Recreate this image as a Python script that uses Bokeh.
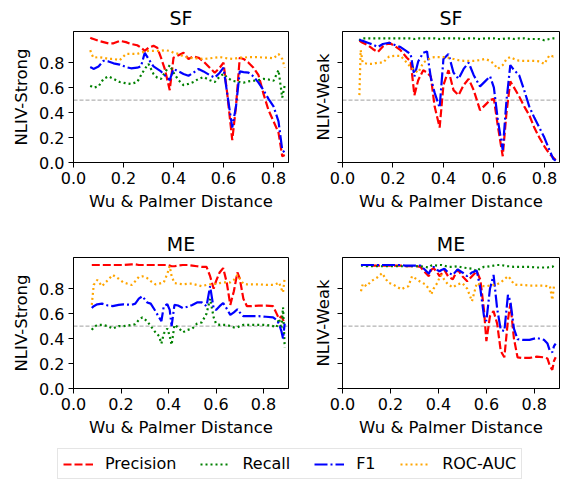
from bokeh.plotting import figure
from bokeh.layouts import column, row
from bokeh.models import Range1d, Span, FixedTicker, PrintfTickFormatter, Legend, LegendItem
from bokeh.embed import file_html
from bokeh.resources import INLINE

FONT = "DejaVu Sans"

# ---------------- data ----------------
tick_values = [0.0, 0.2, 0.4, 0.6, 0.8]

xs_sf = [0.067, 0.072, 0.08, 0.10, 0.12, 0.14, 0.16, 0.185, 0.21, 0.23, 0.255, 0.27, 0.285, 0.30,
         0.32, 0.335, 0.35, 0.365, 0.385, 0.40, 0.42, 0.44, 0.46, 0.48, 0.50, 0.52, 0.545, 0.565,
         0.585, 0.60, 0.615, 0.635, 0.65, 0.665, 0.68, 0.70, 0.72, 0.74, 0.76, 0.78, 0.80, 0.82,
         0.835, 0.845]

sf_strong_precision = [1.00, 0.995, 0.99, 0.975, 0.965, 0.955, 0.955, 0.975, 0.965, 0.95, 0.94, 0.92,
                       0.895, 0.92, 0.935, 0.92, 0.84, 0.75, 0.58, 0.84, 0.86, 0.88, 0.83, 0.85, 0.84,
                       0.81, 0.76, 0.72, 0.76, 0.80, 0.55, 0.18, 0.45, 0.84, 0.83, 0.80, 0.76, 0.70,
                       0.55, 0.42, 0.33, 0.24, 0.05, 0.06]
sf_strong_recall = [0.615, 0.61, 0.60, 0.61, 0.67, 0.69, 0.67, 0.645, 0.635, 0.63, 0.645, 0.70, 0.75,
                    0.79, 0.71, 0.68, 0.67, 0.72, 0.78, 0.72, 0.66, 0.62, 0.63, 0.645, 0.67, 0.685,
                    0.66, 0.645, 0.69, 0.71, 0.68, 0.655, 0.65, 0.645, 0.64, 0.65, 0.655, 0.66, 0.67,
                    0.665, 0.655, 0.74, 0.52, 0.62]
sf_strong_f1 = [0.765, 0.76, 0.75, 0.77, 0.815, 0.81, 0.795, 0.785, 0.765, 0.755, 0.76, 0.77, 0.88,
                0.83, 0.77, 0.75, 0.73, 0.70, 0.66, 0.75, 0.73, 0.71, 0.695, 0.72, 0.75, 0.73, 0.70,
                0.68, 0.72, 0.76, 0.55, 0.28, 0.45, 0.73, 0.725, 0.72, 0.69, 0.64, 0.58, 0.51, 0.45,
                0.33, 0.10, 0.08]
sf_strong_auc = [0.90, 0.87, 0.84, 0.845, 0.84, 0.83, 0.83, 0.82, 0.87, 0.87, 0.87, 0.88, 0.89, 0.895,
                 0.895, 0.895, 0.895, 0.90, 0.895, 0.88, 0.87, 0.85, 0.84, 0.835, 0.835, 0.83, 0.835,
                 0.84, 0.845, 0.84, 0.835, 0.83, 0.835, 0.84, 0.84, 0.845, 0.845, 0.845, 0.84, 0.84,
                 0.835, 0.87, 0.83, 0.76]

sf_weak_precision = [0.975, 0.97, 0.96, 0.94, 0.91, 0.885, 0.93, 0.96, 0.93, 0.90, 0.84, 0.81, 0.54,
                     0.66, 0.74, 0.72, 0.69, 0.45, 0.28, 0.62, 0.74, 0.58, 0.54, 0.62, 0.67, 0.58,
                     0.42, 0.46, 0.50, 0.51, 0.30, 0.05, 0.40, 0.65, 0.60, 0.53, 0.45, 0.38, 0.28,
                     0.20, 0.13, 0.07, 0.04, 0.02]
sf_weak_recall = [0.975, 0.99, 0.995, 0.995, 0.995, 0.995, 0.995, 0.995, 0.995, 0.995, 0.995, 0.995,
                  0.99, 0.995, 0.995, 0.995, 0.995, 0.995, 0.99, 0.995, 0.995, 0.995, 0.995, 0.99,
                  0.995, 0.995, 0.99, 0.995, 0.995, 0.995, 0.99, 0.99, 0.995, 0.995, 0.99, 0.995,
                  0.995, 0.99, 0.99, 0.99, 0.98, 0.99, 0.995, 0.995]
sf_weak_f1 = [0.985, 0.98, 0.975, 0.96, 0.945, 0.925, 0.95, 0.96, 0.94, 0.925, 0.89, 0.87, 0.69, 0.81,
              0.88, 0.89, 0.68, 0.56, 0.44, 0.83, 0.87, 0.72, 0.67, 0.75, 0.80, 0.70, 0.61, 0.65,
              0.69, 0.60, 0.35, 0.10, 0.50, 0.78, 0.74, 0.70, 0.58, 0.45, 0.36, 0.28, 0.20, 0.10,
              0.03, 0.015]
sf_weak_auc = [0.54, 0.90, 0.80, 0.79, 0.79, 0.80, 0.80, 0.85, 0.855, 0.855, 0.80, 0.765, 0.74, 0.72,
               0.80, 0.82, 0.84, 0.845, 0.845, 0.845, 0.84, 0.83, 0.82, 0.815, 0.815, 0.815, 0.82,
               0.83, 0.815, 0.79, 0.75, 0.78, 0.83, 0.845, 0.83, 0.815, 0.815, 0.815, 0.815, 0.81,
               0.79, 0.86, 0.85, 0.86]

xs_me = [0.077, 0.085, 0.10, 0.12, 0.145, 0.165, 0.19, 0.21, 0.245, 0.26,
         0.275, 0.29, 0.31, 0.325, 0.345, 0.36, 0.37, 0.38, 0.395, 0.405,
         0.413, 0.425, 0.44, 0.46, 0.48, 0.50, 0.52, 0.54, 0.56, 0.575,
         0.59, 0.60, 0.615, 0.63, 0.645, 0.66, 0.675, 0.69, 0.70, 0.715,
         0.73, 0.75, 0.78, 0.81, 0.84, 0.855, 0.865, 0.875, 0.882, 0.889]

me_strong_precision = [0.99, 0.99, 0.99, 0.99, 0.99, 0.99, 0.99, 0.99, 0.995, 0.995,
                       0.99, 0.99, 0.99, 0.99, 0.99, 0.99, 0.99, 0.99, 0.99, 0.985,
                       0.98, 0.98, 0.985, 0.99, 0.99, 0.985, 0.98, 0.975, 0.975, 0.90,
                       0.80, 0.86, 0.93, 0.965, 0.85, 0.67, 0.78, 0.93, 0.88, 0.72,
                       0.66, 0.66, 0.665, 0.665, 0.66, 0.60, 0.56, 0.58, 0.55, 0.53]
me_strong_recall = [0.47, 0.49, 0.51, 0.51, 0.50, 0.48, 0.50, 0.50, 0.51, 0.515,
                    0.55, 0.57, 0.54, 0.50, 0.45, 0.42, 0.36, 0.44, 0.48, 0.42,
                    0.35, 0.51, 0.49, 0.45, 0.47, 0.48, 0.52, 0.53, 0.60, 0.72,
                    0.57, 0.52, 0.51, 0.51, 0.51, 0.50, 0.49, 0.49, 0.50, 0.51,
                    0.51, 0.51, 0.51, 0.51, 0.50, 0.49, 0.56, 0.48, 0.65, 0.33]
me_strong_f1 = [0.645, 0.66, 0.675, 0.68, 0.665, 0.66, 0.67, 0.675, 0.67, 0.68,
                0.72, 0.74, 0.69, 0.68, 0.62, 0.57, 0.54, 0.66, 0.675, 0.63,
                0.50, 0.67, 0.665, 0.645, 0.655, 0.67, 0.69, 0.69, 0.66, 0.82,
                0.64, 0.63, 0.66, 0.685, 0.64, 0.59, 0.61, 0.635, 0.61, 0.58,
                0.58, 0.58, 0.58, 0.575, 0.57, 0.55, 0.52, 0.46, 0.40, 0.52]
me_strong_auc = [0.67, 0.83, 0.87, 0.82, 0.87, 0.91, 0.88, 0.85, 0.83, 0.86,
                 0.895, 0.90, 0.885, 0.86, 0.835, 0.84, 0.845, 0.85, 0.92, 0.98,
                 0.90, 0.845, 0.84, 0.835, 0.84, 0.84, 0.83, 0.82, 0.83, 0.835,
                 0.835, 0.84, 0.845, 0.85, 0.85, 0.85, 0.87, 0.91, 0.88, 0.84,
                 0.835, 0.835, 0.835, 0.83, 0.83, 0.84, 0.85, 0.80, 0.77, 0.89]

me_weak_precision = [0.99, 0.99, 0.99, 0.985, 0.985, 0.985, 0.985, 0.985, 0.985, 0.98,
                     0.98, 0.98, 0.98, 0.975, 0.93, 0.90, 0.95, 0.965, 0.93, 0.90,
                     0.92, 0.95, 0.90, 0.875, 0.955, 0.90, 0.86, 0.90, 0.94, 0.87,
                     0.63, 0.38, 0.58, 0.62, 0.52, 0.30, 0.25, 0.55, 0.68, 0.40,
                     0.25, 0.245, 0.245, 0.255, 0.25, 0.24, 0.18, 0.15, 0.22, 0.25]
me_weak_recall = [0.985, 0.985, 0.98, 0.98, 0.98, 0.98, 0.98, 0.98, 0.98, 0.98,
                  0.98, 0.98, 0.98, 0.98, 0.975, 0.97, 0.985, 0.99, 0.985, 0.99,
                  0.99, 0.985, 0.975, 0.975, 0.98, 0.97, 0.965, 0.96, 0.94, 0.965,
                  0.975, 0.975, 0.98, 0.985, 0.99, 0.99, 0.985, 0.98, 0.98, 0.975,
                  0.975, 0.975, 0.975, 0.97, 0.97, 0.97, 0.975, 0.975, 0.985, 0.99]
me_weak_f1 = [0.99, 0.99, 0.99, 0.99, 0.99, 0.99, 0.99, 0.99, 0.99, 0.985,
              0.985, 0.985, 0.985, 0.985, 0.95, 0.92, 0.96, 0.975, 0.95, 0.94,
              0.95, 0.96, 0.93, 0.91, 0.955, 0.93, 0.90, 0.93, 0.945, 0.80,
              0.58, 0.54, 0.80, 0.91, 0.64, 0.47, 0.46, 0.75, 0.70, 0.48,
              0.395, 0.39, 0.39, 0.405, 0.39, 0.36, 0.30, 0.29, 0.34, 0.36]
me_weak_auc = [0.78, 0.84, 0.82, 0.86, 0.89, 0.925, 0.85, 0.835, 0.795, 0.81,
               0.82, 0.90, 0.875, 0.855, 0.835, 0.80, 0.755, 0.80, 0.845, 0.89,
               0.91, 0.87, 0.835, 0.81, 0.835, 0.845, 0.80, 0.70, 0.845, 0.83,
               0.82, 0.82, 0.825, 0.83, 0.835, 0.85, 0.875, 0.90, 0.88, 0.835,
               0.83, 0.83, 0.825, 0.825, 0.825, 0.82, 0.82, 0.71, 0.82, 0.82]

series_names = ["Precision", "Recall", "F1", "ROC-AUC"]
series_colors = ["red", "green", "blue", "orange"]
series_dashes = ["8 3", "2 3", "13 3 2 3", "2 3"]
LW = 2.2


def panel(xs, values, title, ylabel, xmax, width, height, bl, br, bt, bb, show_ylabels):
    p = figure(width=width, height=height, x_range=Range1d(0, xmax), y_range=Range1d(0, 1.05),
               output_backend="svg", toolbar_location=None, title=title,
               min_border_left=bl, min_border_right=br, min_border_top=bt, min_border_bottom=bb)
    p.grid.visible = False
    p.outline_line_color = "black"
    p.outline_line_width = 1
    p.outline_line_alpha = 1
    p.background_fill_color = "white"
    p.border_fill_color = "white"

    p.title.align = "center"
    p.title.text_font = FONT
    p.title.text_font_size = "19px"
    p.title.text_font_style = "normal"
    p.title.text_color = "black"
    p.title.standoff = 6

    for ax in (p.xaxis, p.yaxis):
        ax.ticker = FixedTicker(ticks=tick_values)
        ax.formatter = PrintfTickFormatter(format="%.1f")
        ax.major_tick_in = 0
        ax.major_tick_out = 5
        ax.major_tick_line_color = "black"
        ax.minor_tick_line_color = None
        ax.axis_line_color = "black"
        ax.major_label_text_font = FONT
        ax.major_label_text_font_size = "16px"
        ax.major_label_text_color = "black"
        ax.major_label_standoff = 4
        ax.axis_label_text_font = FONT
        ax.axis_label_text_font_size = "16.5px"
        ax.axis_label_text_font_style = "normal"
        ax.axis_label_text_color = "black"
        ax.axis_label_standoff = 5
    p.xaxis.axis_label = "Wu & Palmer Distance"
    p.yaxis.axis_label = ylabel
    if not show_ylabels:
        # shared y axis: tick marks only, no tick labels drawn
        p.yaxis.major_label_text_font_size = "1px"
        p.yaxis.major_label_text_color = None
        p.yaxis.major_label_standoff = 0

    p.add_layout(Span(location=0.5, dimension="width", line_color="gray", line_alpha=0.75,
                      line_dash="4 2", line_width=1, level="underlay"))
    for ys, color, dash in zip(values, series_colors, series_dashes):
        p.line(xs, ys, line_color=color, line_dash=dash, line_width=LW)
    return p


f1 = panel(xs_sf, [sf_strong_precision, sf_strong_recall, sf_strong_f1, sf_strong_auc],
           "SF", "NLIV-Strong", 0.86, 290, 225, 73, 2, 31, 63, True)
f2 = panel(xs_sf, [sf_weak_precision, sf_weak_recall, sf_weak_f1, sf_weak_auc],
           "SF", "NLIV-Weak", 0.86, 285, 225, 52, 16, 31, 63, False)
f3 = panel(xs_me, [me_strong_precision, me_strong_recall, me_strong_f1, me_strong_auc],
           "ME", "NLIV-Strong", 0.905, 290, 220, 73, 2, 32, 57, True)
f4 = panel(xs_me, [me_weak_precision, me_weak_recall, me_weak_f1, me_weak_auc],
           "ME", "NLIV-Weak", 0.905, 285, 220, 52, 16, 32, 57, False)

# legend strip (proxy lines lie outside the visible range; only their legend glyphs show)
lf = figure(width=575, height=35, x_range=Range1d(0, 1), y_range=Range1d(0, 1),
            output_backend="svg", toolbar_location=None, x_axis_type=None, y_axis_type=None,
            min_border=0, outline_line_color=None)
lf.grid.visible = False
items = []
for name, color, dash in zip(series_names, series_colors, series_dashes):
    r = lf.line([-10, -9], [-10, -9], line_color=color, line_dash=dash, line_width=LW)
    items.append(LegendItem(label=name, renderers=[r]))
leg = Legend(items=items, orientation="horizontal", location=(57, 1), margin=0,
             glyph_width=30, glyph_height=16, label_height=16, label_standoff=12, spacing=24,
             padding=5, label_text_font=FONT, label_text_font_size="16px",
             label_text_color="black", border_line_color="#cccccc", border_line_width=1,
             background_fill_color="white", background_fill_alpha=1)
lf.add_layout(leg, "center")

layout = column(row(f1, f2), row(f3, f4), lf)
open("out.html", "w").write(file_html(layout, INLINE))
